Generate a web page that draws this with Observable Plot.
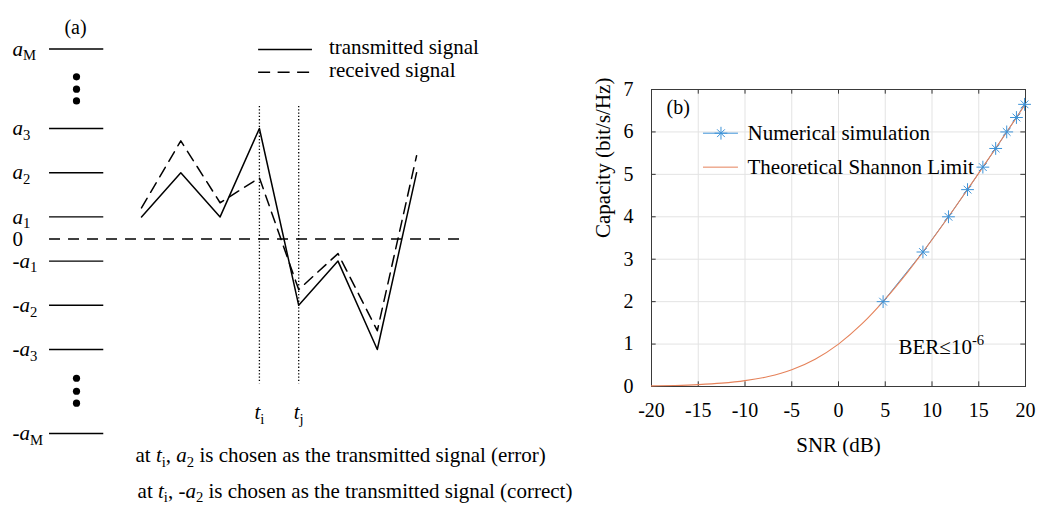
<!DOCTYPE html>
<html><head><meta charset="utf-8">
<script src="https://cdn.jsdelivr.net/npm/d3@7"></script>
<script src="https://cdn.jsdelivr.net/npm/@observablehq/plot@0.6"></script>
<style>
html,body{margin:0;padding:0;background:#fff;}
#wrap{position:relative;width:1044px;height:506px;overflow:hidden;background:#fff;}
#pa{position:absolute;left:0;top:0;}
#pb{position:absolute;left:560px;top:0;}
#wrap svg{display:block;}
</style></head><body><div id="wrap"><div id="pa"></div><div id="pb"></div></div>
<script>
// ---------- Panel (a): schematic ----------
const levelNames  = ["{i:a}{_:M}", "{i:a}{_:3}", "{i:a}{_:2}", "{i:a}{_:1}", "0", "-{i:a}{_:1}", "-{i:a}{_:2}", "-{i:a}{_:3}", "-{i:a}{_:M}"];
const levelValues = [8.6, 5, 3, 1, 0, -1, -3, -5, -8.8];
const ellipsisDots = [7.34, 6.78, 6.25, -6.30, -6.89, -7.43];
const timeSteps   = [0, 1, 2, 3, 4, 5, 6, 7];
const transmitted = [1, 3, 1, 5, -3, -1, -5, 3];
const received    = [1.41, 4.44, 1.64, 2.77, -2.29, -0.66, -4.15, 3.77];
const decisionTimes  = [3, 4];
const decisionLabels = ["{i:t}{_:i}", "{i:t}{_:j}"];
const legendLabelsA  = ["transmitted signal", "received signal"];
const captionsA = [
  "at {i:t}{_:i}, {i:a}{_:2} is chosen as the transmitted signal (error)",
  "at {i:t}{_:i}, -{i:a}{_:2} is chosen as the transmitted signal (correct)"
];

// ---------- Panel (b): capacity vs SNR ----------
const xTicks = [-20, -15, -10, -5, 0, 5, 10, 15, 20];
const yTicks = [0, 1, 2, 3, 4, 5, 6, 7];
const snrSim = [4.77, 9.03, 11.76, 13.8, 15.44, 16.81, 17.99, 19.03, 19.9];
const capSim = [2.0, 3.17, 4.0, 4.64, 5.17, 5.61, 6.0, 6.34, 6.65];
const snrShannon = [-20, -17.5, -15, -12.5, -10, -7.5, -5, -2.5, 0, 2.5, 5, 7.5, 10, 12.5, 15, 17.5, 20];
const capShannon = [0.014, 0.025, 0.045, 0.079, 0.138, 0.236, 0.396, 0.644, 1.0, 1.474, 2.06, 2.727, 3.459, 4.231, 5.028, 5.839, 6.658];
const seriesNames  = ["Numerical simulation", "Theoretical Shannon Limit"];
const seriesColors = ["#3d93d8", "#e5825a"];
const berNote = "BER≤10{^:-6}";

const FONT = "Liberation Serif";

// layout (schematic coordinates)
const A = {labelX: -3.28, levelX1: -2.34, levelX2: -0.96, zeroX2: 8.2, dotX: -1.654,
  markTop: 6.0, markBottom: -6.55, markLabelY: -7.85, titleX: -1.68, titleY: 9.55,
  legX1: 2.98, legX2: 4.35, legTextX: 4.77, legY: [8.57, 7.54],
  captionX: [-0.153, -0.1], captionY: [-9.8, -11.4]};

const plotA = Plot.plot({
  width: 590, height: 506,
  marginLeft: 141, marginRight: 173.9, marginTop: 128, marginBottom: 157,
  x: {domain: [0, 7], axis: null},
  y: {domain: [-5, 5], axis: null},
  style: {fontFamily: FONT, fontSize: "21px", background: "#fff", overflow: "visible"},
  marks: [
    Plot.ruleY(levelValues.filter(v => v !== 0), {x1: A.levelX1, x2: A.levelX2, stroke: "#000", strokeWidth: 1.4}),
    Plot.ruleY([0], {x1: A.levelX1, x2: A.zeroX2, stroke: "#000", strokeWidth: 1.4, strokeDasharray: "11,8"}),
    Plot.text(levelValues, {x: A.labelX, y: d => d, text: (d, i) => levelNames[i], textAnchor: "start", fontSize: 21, fill: "#000"}),
    Plot.dot(ellipsisDots, {x: A.dotX, y: d => d, r: 3.6, fill: "#000", stroke: null}),
    Plot.ruleX(decisionTimes, {x: d => d, y1: A.markTop, y2: A.markBottom, stroke: "#000", strokeWidth: 1.3, strokeDasharray: "1.3,2"}),
    Plot.line(timeSteps, {x: d => d, y: (d, i) => transmitted[i], stroke: "#000", strokeWidth: 1.5}),
    Plot.line(timeSteps, {x: d => d, y: (d, i) => received[i], stroke: "#000", strokeWidth: 1.5, strokeDasharray: "11,7"}),
    Plot.text(decisionTimes, {x: d => d, y: A.markLabelY, text: (d, i) => decisionLabels[i], fontSize: 21, fill: "#000"}),
    Plot.text(["(a)"], {x: A.titleX, y: A.titleY, fontSize: 20, fill: "#000"}),
    Plot.ruleY([A.legY[0]], {x1: A.legX1, x2: A.legX2, y: d => d, stroke: "#000", strokeWidth: 1.5}),
    Plot.ruleY([A.legY[1]], {x1: A.legX1, x2: A.legX2, y: d => d, stroke: "#000", strokeWidth: 1.5, strokeDasharray: "12,7.5"}),
    Plot.text(A.legY, {x: A.legTextX, y: d => d, text: (d, i) => legendLabelsA[i], textAnchor: "start", fontSize: 21, fill: "#000", dy: -2}),
    Plot.text(captionsA, {x: (d, i) => A.captionX[i], y: (d, i) => A.captionY[i], text: d => d, textAnchor: "start", fontSize: 21, fill: "#000"})
  ]
});

const legYb = [5.97, 5.17];
const B = {legX1: -14.44, legX2: -10.7, legTextX: -9.73, berX: 6.42, berY: 0.92};

const plotB = Plot.plot({
  width: 484, height: 506,
  marginLeft: 91, marginRight: 19, marginTop: 89, marginBottom: 120,
  x: {domain: [-20, 20], ticks: xTicks, tickSize: 0, tickPadding: 16, label: null, tickFormat: d => String(d)},
  y: {domain: [0, 7], ticks: yTicks, tickSize: 0, tickPadding: 18, label: null, tickFormat: d => String(d)},
  style: {fontFamily: FONT, fontSize: "20px", background: "transparent", overflow: "visible"},
  marks: [
    Plot.ruleX(xTicks, {x: d => d, stroke: "#e3e3e3", strokeWidth: 1}),
    Plot.ruleY(yTicks, {y: d => d, stroke: "#e3e3e3", strokeWidth: 1}),
    Plot.ruleX(xTicks, {x: d => d, y1: 0, y2: 0.11, stroke: "#333", strokeWidth: 1}),
    Plot.ruleX(xTicks, {x: d => d, y1: 7, y2: 6.89, stroke: "#333", strokeWidth: 1}),
    Plot.ruleY(yTicks, {y: d => d, x1: -20, x2: -19.5, stroke: "#333", strokeWidth: 1}),
    Plot.ruleY(yTicks, {y: d => d, x1: 20, x2: 19.5, stroke: "#333", strokeWidth: 1}),
    Plot.frame({stroke: "#3a3a3a", strokeWidth: 1}),
    Plot.line(snrSim, {x: d => d, y: (d, i) => capSim[i], stroke: seriesColors[0], strokeWidth: 1}),
    Plot.line(snrShannon, {x: d => d, y: (d, i) => capShannon[i], stroke: seriesColors[1], strokeWidth: 1.1, curve: "monotone-x"}),
    Plot.dot(snrSim, {x: d => d, y: (d, i) => capSim[i], symbol: "plus", r: 4.2, stroke: seriesColors[0], strokeWidth: 1}),
    Plot.dot(snrSim, {x: d => d, y: (d, i) => capSim[i], symbol: "times", r: 3.6, stroke: seriesColors[0], strokeWidth: 1}),
    // legend
    Plot.ruleY(legYb, {y: d => d, x1: B.legX1, x2: B.legX2, stroke: (d, i) => seriesColors[i], strokeWidth: 1}),
    Plot.dot([legYb[0]], {x: (B.legX1 + B.legX2) / 2, y: d => d, symbol: "plus", r: 4.2, stroke: seriesColors[0], strokeWidth: 1}),
    Plot.dot([legYb[0]], {x: (B.legX1 + B.legX2) / 2, y: d => d, symbol: "times", r: 3.6, stroke: seriesColors[0], strokeWidth: 1}),
    Plot.text(legYb, {y: d => d, x: B.legTextX, text: (d, i) => seriesNames[i], textAnchor: "start", fontSize: 21, fill: "#000"}),
    Plot.text(["(b)"], {frameAnchor: "top-left", dx: 15, dy: 18, textAnchor: "start", lineAnchor: "middle", fontSize: 20, fill: "#000"}),
    Plot.text([berNote], {x: B.berX, y: B.berY, text: d => d, textAnchor: "start", fontSize: 21, fill: "#000"}),
    Plot.text(["SNR (dB)"], {frameAnchor: "bottom", dy: 59, lineAnchor: "middle", fontSize: 21, fill: "#000"}),
    Plot.text(["Capacity (bit/s/Hz)"], {frameAnchor: "left", dx: -48.5, rotate: -90, lineAnchor: "middle", fontSize: 21, fill: "#000"})
  ]
});

document.getElementById("pa").appendChild(plotA);
document.getElementById("pb").appendChild(plotB);

// rich text: {i:x} italic, {_:x} subscript, {^:x} superscript
function richify(svg) {
  const NS = "http://www.w3.org/2000/svg";
  d3.select(svg).attr("font-family", FONT);
  d3.select(svg).selectAll("text").attr("font-family", FONT).each(function () {
    const s = this.textContent;
    if (!/\{[i_^]:/.test(s)) return;
    const fs = parseFloat(getComputedStyle(this).fontSize) || 20;
    this.textContent = "";
    const re = /\{([i_^]):([^}]*)\}|([^{]+)/g;
    let m, shift = 0;
    while ((m = re.exec(s))) {
      const t = document.createElementNS(NS, "tspan");
      let target = 0;
      if (m[3] !== undefined) {
        t.textContent = m[3];
      } else if (m[1] === "i") {
        t.textContent = m[2];
        t.setAttribute("font-style", "italic");
      } else if (m[1] === "_") {
        t.textContent = m[2];
        t.setAttribute("font-size", (fs * 0.7).toFixed(1));
        target = 0.22 * fs;
      } else {
        t.textContent = m[2];
        t.setAttribute("font-size", (fs * 0.7).toFixed(1));
        target = -0.42 * fs;
      }
      const d = target - shift;
      if (d) t.setAttribute("dy", d.toFixed(2));
      shift = target;
      this.appendChild(t);
    }
  });
}
richify(plotA);
richify(plotB);
</script>
</body></html>
